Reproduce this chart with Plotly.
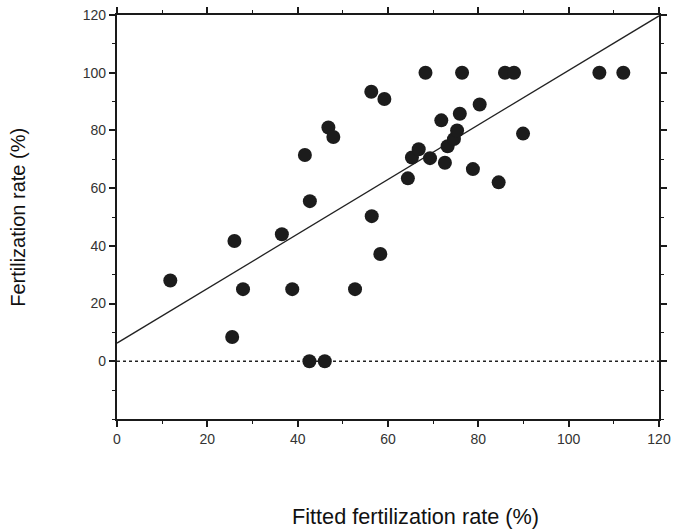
import plotly.graph_objects as go

# Observed vs fitted fertilization rate (%)
fitted = [11.8, 25.5, 26.0, 27.9, 36.5, 38.8, 41.6, 42.7, 42.6, 46.0,
          46.8, 47.9, 52.7, 56.3, 56.4, 58.3, 59.2, 64.4, 65.3, 66.8,
          68.3, 69.3, 71.8, 72.6, 73.2, 74.6, 75.3, 75.9, 76.4, 78.8,
          80.3, 84.5, 85.9, 87.9, 89.9, 106.8, 112.1]
observed = [28.0, 8.4, 41.7, 25.0, 44.0, 25.0, 71.5, 55.5, 0.0, 0.0,
            81.0, 77.7, 25.0, 93.4, 50.3, 37.2, 90.9, 63.4, 70.6, 73.5,
            100.0, 70.4, 83.5, 68.8, 74.5, 77.0, 80.0, 85.8, 100.0, 66.6,
            89.0, 62.0, 100.0, 100.0, 78.9, 100.0, 100.0]

# Regression line (intercept, slope) and reference zero line
fit_intercept = 6.3
fit_slope = 0.945
line_x = [0, 120]
zero_y = [0, 0]

x_ticks = [0, 20, 40, 60, 80, 100, 120]
y_ticks = [0, 20, 40, 60, 80, 100, 120]

fig = go.Figure()
fig.add_trace(go.Scatter(
    x=line_x, y=zero_y, mode="lines",
    line=dict(color="#222", width=1.6, dash="dot"), hoverinfo="skip"))
fig.add_trace(go.Scatter(
    x=line_x, y=[fit_intercept + fit_slope * v for v in line_x], mode="lines",
    line=dict(color="#222", width=1.3), hoverinfo="skip"))
fig.add_trace(go.Scatter(
    x=fitted, y=observed, mode="markers",
    marker=dict(color="#1c1c1c", size=14, line=dict(width=0))))

axis_common = dict(
    showgrid=False, zeroline=False, showline=True, linecolor="#1a1a1a",
    linewidth=2.2, mirror="allticks", ticks="outside", ticklen=6,
    tickwidth=1.5, tickcolor="#1a1a1a",
    minor=dict(ticks="outside", ticklen=3, tickwidth=1.3, tickcolor="#1a1a1a", dtick=10),
    tickfont=dict(family="Liberation Sans, Arial, sans-serif", size=14, color="#333"),
)

fig.update_xaxes(range=[0, 120], tickvals=x_ticks, **axis_common)
fig.update_yaxes(range=[-20, 120], tickvals=y_ticks, **axis_common)

fig.update_layout(
    width=678, height=532,
    margin=dict(l=117, r=7, t=13, b=113),
    paper_bgcolor="white", plot_bgcolor="white",
    showlegend=False,
    annotations=[
        dict(text="Fitted fertilization rate (%)", xref="paper", yref="paper",
             x=0.551, y=-0.242, xanchor="center", yanchor="middle", showarrow=False,
             font=dict(family="Liberation Sans, Arial, sans-serif", size=21.7, color="#111")),
        dict(text="Fertilization rate (%)", xref="paper", yref="paper",
             x=-0.183, y=0.5, xanchor="center", yanchor="middle", showarrow=False,
             textangle=-90,
             font=dict(family="Liberation Sans, Arial, sans-serif", size=20, color="#111")),
    ],
)

fig.write_html("out.html", config={"displayModeBar": False},
               post_script="document.body.style.margin='0px';")
